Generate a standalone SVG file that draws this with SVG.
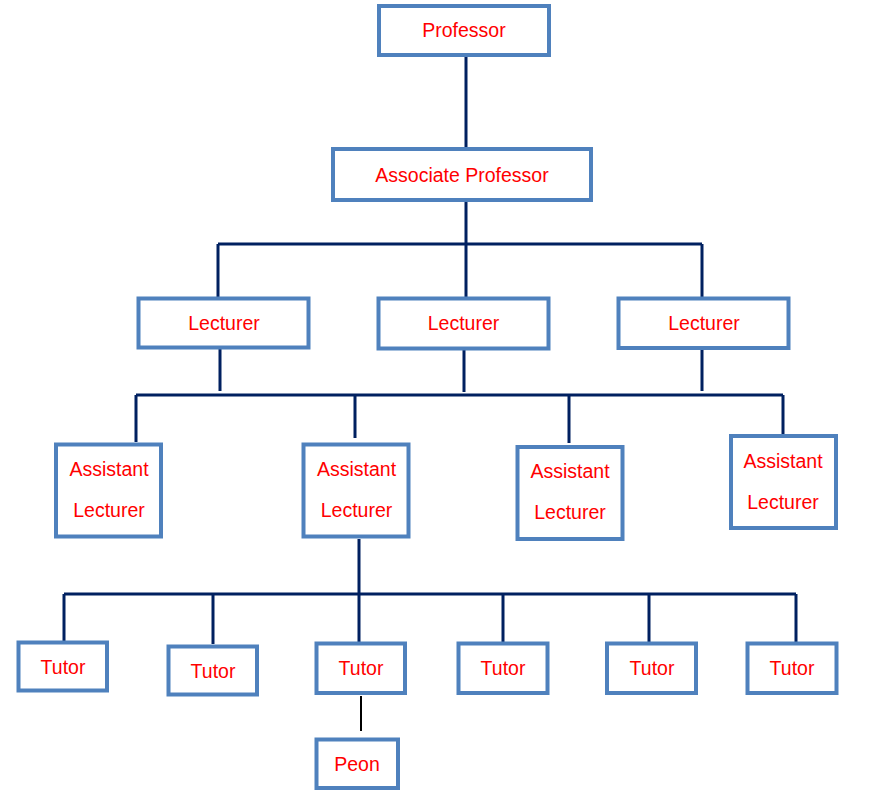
<svg xmlns="http://www.w3.org/2000/svg" width="869" height="799" viewBox="0 0 869 799">
<style>
.box{fill:#fff;stroke:#4F81BD;stroke-width:4}
.lbl{font-family:"Liberation Sans",Arial,sans-serif;font-size:19.5px;fill:#FF0000;text-anchor:middle}
.c{stroke:#002060;stroke-width:3;fill:none}
.p{stroke:#000;stroke-width:2;fill:none}
</style>
<rect width="869" height="799" fill="#fff"/>
<g id="connectors">
<path class="c" d="M466 57V147M466 202V297M218 244H702M218 244V297M702 244V297"/>
<path class="c" d="M220 349V391M464 350V392M702 350V391M136 395H783M136 395V442M355 395V438M569 395V443M783 395V434"/>
<path class="c" d="M359 539V646M64 594H796M64 594V643M213 594V644M503 594V642M649 594V642M796 594V642"/>
<path class="p" d="M361 696V731"/>
</g>
<g id="professor"><rect class="box" x="379" y="6" width="170" height="49"/><text class="lbl" x="464" y="37">Professor</text></g>
<g id="assoc"><rect class="box" x="333" y="149" width="258" height="51"/><text class="lbl" x="462" y="182">Associate Professor</text></g>
<g id="lect1"><rect class="box" x="138.5" y="298.5" width="170" height="49"/><text class="lbl" x="224" y="329.5">Lecturer</text></g>
<g id="lect2"><rect class="box" x="378.5" y="298.5" width="170" height="50"/><text class="lbl" x="463.5" y="329.5">Lecturer</text></g>
<g id="lect3"><rect class="box" x="618.5" y="298.5" width="170" height="49.5"/><text class="lbl" x="704" y="329.5">Lecturer</text></g>
<g id="al1"><rect class="box" x="56" y="444.5" width="105" height="92"/><text class="lbl" x="109" y="476">Assistant</text><text class="lbl" x="109" y="517">Lecturer</text></g>
<g id="al2"><rect class="box" x="303.5" y="444.5" width="105" height="92"/><text class="lbl" x="356.5" y="476">Assistant</text><text class="lbl" x="356.5" y="517">Lecturer</text></g>
<g id="al3"><rect class="box" x="517.5" y="447" width="105" height="92"/><text class="lbl" x="570" y="478">Assistant</text><text class="lbl" x="570" y="518.5">Lecturer</text></g>
<g id="al4"><rect class="box" x="731" y="436" width="105" height="92"/><text class="lbl" x="783" y="467.5">Assistant</text><text class="lbl" x="783" y="508.5">Lecturer</text></g>
<g id="tutor1"><rect class="box" x="18.5" y="642.5" width="88.5" height="48"/><text class="lbl" x="63" y="673.5">Tutor</text></g>
<g id="tutor2"><rect class="box" x="168.5" y="646.5" width="88.5" height="48"/><text class="lbl" x="213" y="677.5">Tutor</text></g>
<g id="tutor3"><rect class="box" x="316.5" y="643.5" width="88.5" height="49.5"/><text class="lbl" x="361" y="675">Tutor</text></g>
<g id="tutor4"><rect class="box" x="458.5" y="643.5" width="89" height="49.5"/><text class="lbl" x="503" y="675">Tutor</text></g>
<g id="tutor5"><rect class="box" x="607" y="643.5" width="89" height="49.5"/><text class="lbl" x="652" y="675">Tutor</text></g>
<g id="tutor6"><rect class="box" x="747.5" y="643.5" width="89" height="49.5"/><text class="lbl" x="792" y="675">Tutor</text></g>
<g id="peon"><rect class="box" x="316.5" y="739.5" width="81.5" height="48.5"/><text class="lbl" x="357" y="771">Peon</text></g>
</svg>
